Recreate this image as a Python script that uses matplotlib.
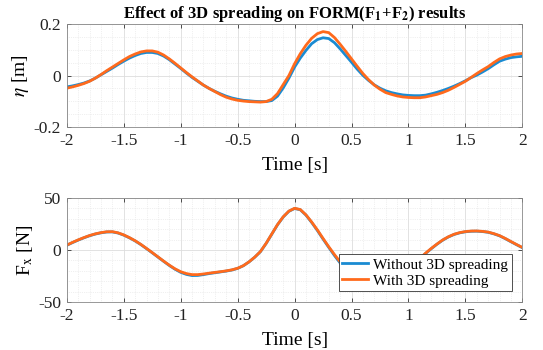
import matplotlib.pyplot as plt
import numpy as np
from matplotlib.ticker import MultipleLocator

plt.rcParams['font.family'] = ['Liberation Serif', 'DejaVu Serif']
plt.rcParams['mathtext.fontset'] = 'stix'

# time axis (s), values every 0.05 s
t = np.round(np.arange(-2.0, 2.001, 0.05), 2)

# wave elevation eta [m]
eta_without = [-0.044, -0.040, -0.035, -0.029, -0.021, -0.010, 0.003, 0.016, 0.029, 0.043,
               0.056, 0.068, 0.078, 0.086, 0.090, 0.090, 0.086, 0.076, 0.062, 0.045,
               0.028, 0.010, -0.007, -0.022, -0.037, -0.050, -0.061, -0.071, -0.080, -0.087,
               -0.092, -0.096, -0.098, -0.100, -0.101, -0.101, -0.097, -0.080, -0.048, -0.010,
               0.033, 0.068, 0.098, 0.124, 0.140, 0.147, 0.144, 0.128, 0.104, 0.078,
               0.052, 0.025, 0.001, -0.019, -0.036, -0.049, -0.059, -0.066, -0.071, -0.075,
               -0.077, -0.078, -0.078, -0.076, -0.071, -0.065, -0.058, -0.050, -0.041, -0.031,
               -0.020, -0.008, 0.002, 0.014, 0.027, 0.042, 0.056, 0.064, 0.070, 0.073, 0.075]
eta_with = [-0.049, -0.044, -0.038, -0.031, -0.022, -0.010, 0.004, 0.019, 0.033, 0.047,
            0.061, 0.074, 0.084, 0.092, 0.096, 0.096, 0.091, 0.080, 0.065, 0.048,
            0.030, 0.012, -0.005, -0.021, -0.037, -0.050, -0.062, -0.074, -0.084, -0.091,
            -0.096, -0.099, -0.101, -0.102, -0.103, -0.101, -0.092, -0.070, -0.035, 0.000,
            0.046, 0.085, 0.118, 0.145, 0.163, 0.171, 0.167, 0.148, 0.122, 0.094,
            0.065, 0.036, 0.008, -0.016, -0.037, -0.053, -0.066, -0.073, -0.079, -0.083,
            -0.085, -0.086, -0.086, -0.083, -0.078, -0.073, -0.066, -0.057, -0.046, -0.034,
            -0.022, -0.007, 0.008, 0.022, 0.035, 0.051, 0.065, 0.074, 0.080, 0.084, 0.086]

# horizontal force Fx [N]
fx_without = [4.6, 7.2, 9.6, 11.8, 13.8, 15.4, 16.6, 17.4, 17.5, 16.4,
              14.4, 11.8, 8.8, 5.3, 1.4, -2.6, -6.7, -10.8, -14.8, -18.4,
              -21.4, -23.4, -24.5, -24.4, -23.6, -22.6, -21.8, -21.0, -20.2, -19.2,
              -17.6, -15.1, -11.4, -6.9, -1.6, 6.3, 15.3, 24.3, 31.8, 37.3,
              40.0, 38.8, 33.6, 26.6, 18.9, 10.6, 2.6, -5.2, -12.4, -19.8,
              -26.3, -31.0, -34.0, -35.4, -35.8, -35.0, -33.0, -30.4, -26.8, -22.8,
              -18.3, -13.3, -8.3, -3.3, 1.3, 5.6, 9.5, 12.6, 15.0, 16.6,
              17.6, 18.1, 18.2, 17.8, 17.1, 15.6, 13.7, 11.0, 8.0, 5.1, 2.3]
fx_with = [4.8, 7.4, 9.8, 12.0, 14.0, 15.6, 16.8, 17.6, 17.7, 16.6,
           14.6, 12.0, 9.0, 5.5, 1.6, -2.4, -6.5, -10.6, -14.5, -18.0,
           -20.8, -22.6, -23.6, -23.6, -23.0, -22.2, -21.5, -20.8, -20.0, -19.0,
           -17.5, -15.0, -11.3, -6.8, -1.4, 6.5, 15.5, 24.5, 32.0, 37.5,
           40.2, 39.0, 33.9, 27.0, 19.4, 11.2, 3.2, -4.3, -11.3, -18.5,
           -25.0, -30.0, -33.0, -34.5, -35.0, -34.3, -32.5, -30.0, -26.5, -22.5,
           -18.0, -13.0, -8.0, -3.0, 1.6, 5.8, 9.7, 12.8, 15.2, 16.8,
           17.8, 18.3, 18.4, 18.0, 17.3, 15.8, 13.9, 11.2, 8.2, 5.3, 2.5]

c_blue = '#1a8bd2'
c_orange = '#ff6a1c'
xt = [-2, -1.5, -1, -0.5, 0, 0.5, 1, 1.5, 2]
xt_labels = ['-2', '-1.5', '-1', '-0.5', '0', '0.5', '1', '1.5', '2']


def style(ax, ylim, yt, yt_labels, minor):
    ax.set_xlim(-2, 2)
    ax.set_ylim(*ylim)
    ax.set_xticks(xt)
    ax.set_xticklabels(xt_labels)
    ax.set_yticks(yt)
    ax.set_yticklabels(yt_labels)
    ax.xaxis.set_minor_locator(MultipleLocator(0.1))
    ax.yaxis.set_minor_locator(MultipleLocator(minor))
    ax.grid(which='major', color='#dddddd', lw=0.6)
    ax.grid(which='minor', color='#e2e2e2', lw=0.5, ls=':')
    ax.tick_params(which='both', direction='in', labelsize=12.5, top=True, right=True,
                   length=3, width=0.6, colors='#333333', labelcolor='#222222', pad=4)
    ax.tick_params(which='minor', length=0)
    for s in ax.spines.values():
        s.set_color('#888888')
        s.set_linewidth(0.6)
    ax.set_xlabel('Time [s]', fontsize=14, labelpad=6)


fig = plt.figure(figsize=(5.43, 3.5), dpi=100)
ax1 = fig.add_axes([0.123, 0.637, 0.839, 0.294])
ax2 = fig.add_axes([0.123, 0.137, 0.839, 0.297])

ax1.plot(t, eta_without, color=c_blue, lw=2, solid_joinstyle='round')
ax1.plot(t, eta_with, color=c_orange, lw=2, solid_joinstyle='round')
style(ax1, (-0.2, 0.2), [-0.2, 0, 0.2], ['-0.2', '0', '0.2'], 0.05)
ax1.set_ylabel(r'$\eta$ [m]', fontsize=14, labelpad=2)
ax1.set_title('Effect of 3D spreading on FORM(F$_\\mathbf{1}$+F$_\\mathbf{2}$) results',
              fontsize=12, fontweight='bold', pad=1)

ax2.plot(t, fx_without, color=c_blue, lw=2, solid_joinstyle='round', label='Without 3D spreading')
ax2.plot(t, fx_with, color=c_orange, lw=2, solid_joinstyle='round', label='With 3D spreading')
style(ax2, (-50, 50), [-50, 0, 50], ['-50', '0', '50'], 10)
ax2.set_ylabel('F$_\\mathrm{x}$ [N]', fontsize=14, labelpad=2)

leg = ax2.legend(loc='lower right', fontsize=11, frameon=True,
                 fancybox=False, edgecolor='#333333', framealpha=1, borderpad=0.25,
                 handlelength=1.7, handletextpad=0.3, labelspacing=0.15, borderaxespad=0.7)
leg.get_frame().set_linewidth(0.6)

fig.savefig('out.png', dpi=100)
